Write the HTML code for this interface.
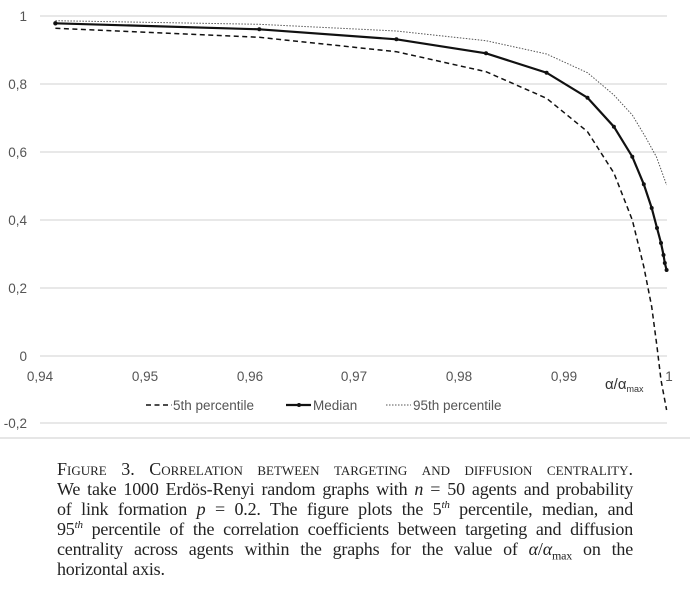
<!DOCTYPE html>
<html><head><meta charset="utf-8"><style>
body{margin:0;width:690px;height:600px;background:#fff;overflow:hidden;position:relative}
svg{position:absolute;left:0;top:0}
.cap{position:absolute;left:57px;top:459px;width:576px;font-family:"Liberation Serif",serif;font-size:18px;line-height:20px;color:#222;letter-spacing:-0.2px}
.cap div{text-align:justify;text-align-last:justify;white-space:nowrap;height:20px}
.cap div.last{text-align-last:left}
.cap .sc{font-variant:small-caps;letter-spacing:0}
sup,sub{line-height:0}
</style></head><body>
<svg width="690" height="440" font-family="Liberation Sans, sans-serif" font-size="13.5" fill="#555">
<g stroke="#d9d9d9" stroke-width="1.3">
<line x1="40" x2="667" y1="16" y2="16"/><line x1="40" x2="667" y1="84" y2="84"/><line x1="40" x2="667" y1="152" y2="152"/><line x1="40" x2="667" y1="220" y2="220"/><line x1="40" x2="667" y1="288" y2="288"/><line x1="40" x2="667" y1="356" y2="356"/><line x1="40" x2="667" y1="423" y2="423"/>
</g>
<line x1="0" x2="690" y1="438" y2="438" stroke="#ccc" stroke-width="1"/>
<g text-anchor="end"><text x="27" y="21">1</text><text x="27" y="89">0,8</text><text x="27" y="157">0,6</text><text x="27" y="225">0,4</text><text x="27" y="293">0,2</text><text x="27" y="361">0</text><text x="27" y="428">-0,2</text></g>
<g text-anchor="middle"><text x="40" y="381">0,94</text><text x="145" y="381">0,95</text><text x="250" y="381">0,96</text><text x="354" y="381">0,97</text><text x="459" y="381">0,98</text><text x="564" y="381">0,99</text><text x="669" y="381">1</text></g>
<text x="605" y="389" font-size="15" fill="#333">α/α<tspan font-size="9" dy="3">max</tspan></text>
<polyline fill="none" stroke="#555" stroke-width="1" stroke-dasharray="1.5,1.5" points="55.4,20.7 259.3,24.3 396.4,31 486,40.7 546.6,54 587.5,72.7 613.9,95 632.3,115 645.5,137 656.5,157 666.6,185"/>
<polyline fill="none" stroke="#111" stroke-width="1.5" stroke-dasharray="5,3.5" points="55.4,28.3 259.3,37.3 396.4,51.7 486,71.7 546.6,98.3 587.5,131.7 613.9,173 632.3,220 643.8,266.7 651.7,306.7 657,346.7 661,380 666.6,410"/>
<polyline fill="none" stroke="#111" stroke-width="2.2" points="55.4,23.3 259.3,29.3 396.4,39.3 486,53.3 546.6,72.7 587.5,97.7 613.9,126.7 632.3,156.7 643.8,184.3 651.7,208 657,228 661,243 663.5,255 664.8,263 666.6,270"/>
<g fill="#111"><circle cx="55.4" cy="23.3" r="2.2"/><circle cx="259.3" cy="29.3" r="2"/><circle cx="396.4" cy="39.3" r="2"/><circle cx="486" cy="53.3" r="2"/><circle cx="546.6" cy="72.7" r="2"/><circle cx="587.5" cy="97.7" r="2"/><circle cx="613.9" cy="126.7" r="2"/><circle cx="632.3" cy="156.7" r="2"/><circle cx="643.8" cy="184.3" r="2"/><circle cx="651.7" cy="208" r="2"/><circle cx="657" cy="228" r="2"/><circle cx="661" cy="243" r="2"/><circle cx="663.5" cy="255" r="2"/><circle cx="664.8" cy="263" r="2"/><circle cx="666.6" cy="270" r="2"/></g>
<line x1="146" x2="172" y1="405" y2="405" stroke="#111" stroke-width="1.5" stroke-dasharray="5,3.5"/>
<text x="173" y="410">5th percentile</text>
<line x1="286" x2="311" y1="405" y2="405" stroke="#111" stroke-width="2.2"/><circle cx="299" cy="405" r="2" fill="#111"/>
<text x="313" y="410">Median</text>
<line x1="386" x2="411" y1="405" y2="405" stroke="#555" stroke-width="1" stroke-dasharray="1.5,1.5"/>
<text x="413" y="410">95th percentile</text>
</svg>
<div class="cap">
<div><span class="sc">Figure 3. Correlation between targeting and diffusion centrality.</span></div>
<div>We take 1000 Erdös-Renyi random graphs with <i>n</i> = 50 agents and probability</div>
<div>of link formation <i>p</i> = 0.2. The figure plots the 5<sup style="font-size:11px"><i>th</i></sup> percentile, median, and</div>
<div>95<sup style="font-size:11px"><i>th</i></sup> percentile of the correlation coefficients between targeting and diffusion</div>
<div>centrality across agents within the graphs for the value of <i>α</i>/<i>α</i><sub style="font-size:12px">max</sub> on the</div>
<div class="last">horizontal axis.</div>
</div>
</body></html>
